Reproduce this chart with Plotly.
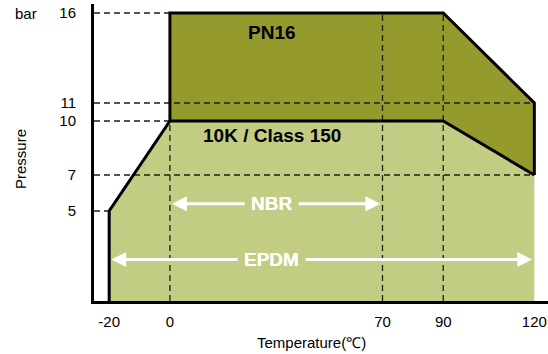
import plotly.graph_objects as go

FONT = "Liberation Sans, Arial, Helvetica, sans-serif"
DARK = "#949a2b"
LIGHT = "#c2cc82"

# temperature (℃) / pressure (bar) outlines
epdm_temp = [-20, -20, 0, 90, 120, 120]
epdm_pres = [0, 5, 10, 10, 7, 0]
pn16_temp = [0, 0, 90, 120, 120, 90, 0]
pn16_pres = [10, 16, 16, 11, 7, 10, 10]

temp_ticks = [-20, 0, 70, 90, 120]
temp_labels = ["-20", "0", "70", "90", "120"]
pres_ticks = [5, 7, 10, 11, 16]

# reference guides: level -> where it stops
h_guides = {16: 0, 11: 120, 10: 0, 7: 120, 5: -20}
v_guides = {0: 10, 70: 16, 90: 16}

x_range = [-25, 124.5]
y_range = [0, 16.5]

fig = go.Figure()

fig.add_trace(go.Scatter(x=epdm_temp, y=epdm_pres, fill="toself", fillcolor=LIGHT,
                         mode="lines", line=dict(width=0), hoverinfo="skip"))
fig.add_trace(go.Scatter(x=pn16_temp, y=pn16_pres, fill="toself", fillcolor=DARK,
                         mode="lines", line=dict(width=0), hoverinfo="skip"))

dash = dict(color="#1e1e1e", width=1.3, dash="6px,4px")
for p, t_end in h_guides.items():
    fig.add_trace(go.Scatter(x=[x_range[0], t_end], y=[p, p], mode="lines", line=dash, hoverinfo="skip"))
for t, p_top in v_guides.items():
    fig.add_trace(go.Scatter(x=[t, t], y=[0, p_top], mode="lines", line=dash, hoverinfo="skip"))

outline = dict(color="black", width=3)
fig.add_trace(go.Scatter(x=epdm_temp[:-1], y=epdm_pres[:-1], mode="lines", line=outline, hoverinfo="skip"))
fig.add_trace(go.Scatter(x=pn16_temp[:5], y=pn16_pres[:5], mode="lines", line=outline, hoverinfo="skip"))

bold = dict(family=FONT, size=19, color="black")
fig.add_annotation(x=33.5, y=14.9, text="<b>PN16</b>", showarrow=False, font=bold)
fig.add_annotation(x=33.5, y=9.2, text="<b>10K / Class 150</b>", showarrow=False, font=bold)

# white range arrows: label in the middle, arrows out to each limit
ranges = [("NBR", 0, 70, 5.4), ("EPDM", -20, 120, 2.3)]
for label, t0, t1, p in ranges:
    for tip in (t0, t1):
        fig.add_annotation(x=tip, y=p, ax=33.5, ay=p, axref="x", ayref="y",
                           text=f"<b>{label}</b>", showarrow=True, arrowhead=2,
                           arrowsize=1, arrowwidth=3, arrowcolor="white",
                           standoff=2, startstandoff=5, borderpad=1,
                           font=dict(family=FONT, size=19, color="white"))

fig.add_annotation(xref="paper", yref="y", x=-0.178, y=16, xanchor="left", text="bar",
                   showarrow=False, font=dict(family=FONT, size=15, color="black"))
fig.add_annotation(xref="paper", yref="paper", x=-0.163, y=0.478, xanchor="center", yanchor="middle",
                   text="Pressure", textangle=-90,
                   showarrow=False, font=dict(family=FONT, size=15, color="black"))
fig.add_annotation(xref="paper", yref="paper", x=0.48, y=-0.141, xanchor="center", yanchor="middle",
                   text="Temperature(℃)",
                   showarrow=False, font=dict(family=FONT, size=15, color="black"))

fig.update_xaxes(range=x_range, tickvals=temp_ticks, ticktext=temp_labels,
                 showgrid=False, zeroline=False,
                 showline=True, linecolor="black", linewidth=3,
                 ticks="outside", ticklen=5, tickcolor="rgba(0,0,0,0)",
                 tickfont=dict(family=FONT, size=15, color="black"))
fig.update_yaxes(range=y_range, tickvals=pres_ticks, showgrid=False, zeroline=False,
                 showline=True, linecolor="black", linewidth=3,
                 ticks="outside", ticklen=12, tickcolor="rgba(0,0,0,0)",
                 tickfont=dict(family=FONT, size=15, color="black"))

fig.update_layout(width=548, height=354, showlegend=False,
                  paper_bgcolor="white", plot_bgcolor="white",
                  margin=dict(l=94, r=0, t=4, b=53))

fig.write_html("out.html", config={"displayModeBar": False},
               post_script="document.body.style.margin='0px';")
